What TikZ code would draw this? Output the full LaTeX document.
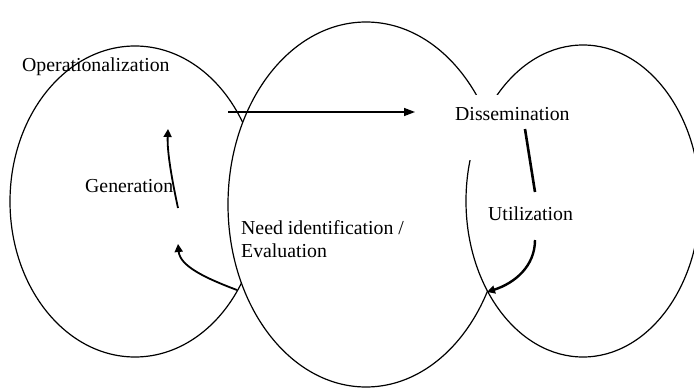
\documentclass[tikz,border=0pt]{standalone}
\usepackage{fontspec}
\setmainfont{Liberation Serif}
\usetikzlibrary{arrows.meta}
\tikzset{
  ring/.style={draw=black, line width=1.2pt, fill=white},
  lbl/.style={font=\fontsize{19.8}{23}\selectfont, inner sep=0pt, anchor=base west, align=left},
  coverlbl/.style={lbl, fill=white, inner xsep=8pt},
  flow/.style={-{Triangle[length=8pt, width=8pt]}, line width=1.8pt},
  stroke/.style={line width=2.6pt},
  link/.style={-{Triangle[length=11pt, width=8pt]}, line width=1.4pt}
}
\begin{document}
\begin{tikzpicture}[x=1pt, y=-1pt]
\useasboundingbox (0,0) rectangle (694,388);
% the three phases
\path[ring] (135,201.5) ellipse [x radius=125, y radius=155.5];
\path[ring] (366,204.5) ellipse [x radius=138, y radius=182.5];
\path[ring] (583,201) ellipse [x radius=117, y radius=156];
% labels
\node[lbl] (oper) at (22,71) {Operationalization};
\node[lbl] (gen) at (85,192) {Generation};
\node[lbl] (need) at (241,257) {Need identification /\\Evaluation};
\node[coverlbl, text height=25pt, text depth=40pt] (diss) at (447,120) {Dissemination};
\node[coverlbl, text height=27pt, text depth=19pt] (util) at (480,220) {Utilization};
% connectors
\coordinate (gentop) at (168,129);
\coordinate (genbot) at (178,208);
\coordinate (genin) at (178,244);
\coordinate (needout) at (237,290);
\coordinate (linkstart) at (228,112);
\coordinate (linkend) at (415,112);
\coordinate (dissout) at (525,129);
\coordinate (utilin) at (535,192);
\coordinate (utilout) at (535,240);
\coordinate (needin) at (487,292);
\draw[link] (linkstart) -- (linkend);
\draw[flow] (genbot) .. controls (172,180) and (167,152) .. (gentop);
\draw[flow] (needout) .. controls (205,278) and (180,266) .. (genin);
\draw[stroke] (dissout) -- (utilin);
\draw[flow, line width=2.4pt] (utilout) .. controls (535,266) and (515,283) .. (needin);
\end{tikzpicture}
\end{document}
